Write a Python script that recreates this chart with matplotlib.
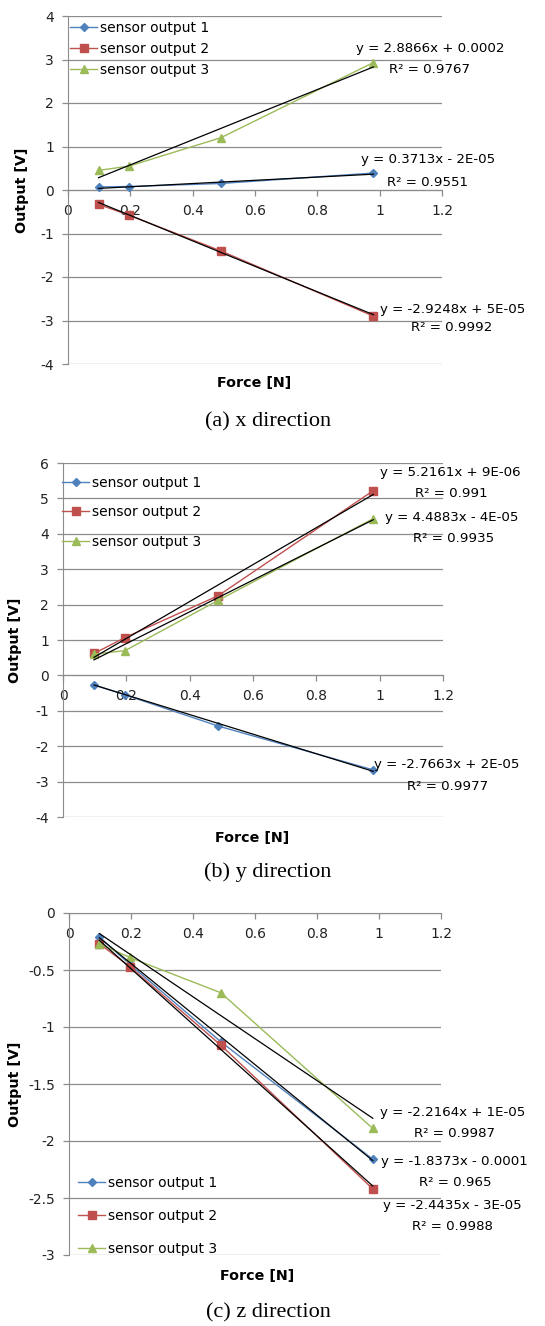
import numpy as np
import matplotlib
matplotlib.use("Agg")
import matplotlib.pyplot as plt
from matplotlib.lines import Line2D

plt.rcParams['font.family'] = ['DejaVu Sans']

# Applied force for every sensor reading [N]
force = [0.098, 0.196, 0.49, 0.98]

# (a) x direction
x_s1 = [0.07, 0.08, 0.15, 0.39]
x_s2 = [-0.33, -0.58, -1.40, -2.90]
x_s3 = [0.45, 0.55, 1.20, 2.93]
x_slope = [0.3713, -2.9248, 2.8866]
x_icpt = [-2e-05, 5e-05, 0.0002]
x_eq = ["y = 0.3713x - 2E-05", "y = -2.9248x + 5E-05", "y = 2.8866x + 0.0002"]
x_r2 = ["R² = 0.9551", "R² = 0.9992", "R² = 0.9767"]

# (b) y direction
y_s1 = [-0.27, -0.55, -1.43, -2.67]
y_s2 = [0.62, 1.07, 2.25, 5.22]
y_s3 = [0.60, 0.70, 2.12, 4.43]
y_slope = [-2.7663, 5.2161, 4.4883]
y_icpt = [2e-05, 9e-06, -4e-05]
y_eq = ["y = -2.7663x + 2E-05", "y = 5.2161x + 9E-06", "y = 4.4883x - 4E-05"]
y_r2 = ["R² = 0.9977", "R² = 0.991", "R² = 0.9935"]

# (c) z direction
z_s1 = [-0.21, -0.45, -1.13, -2.16]
z_s2 = [-0.27, -0.47, -1.16, -2.42]
z_s3 = [-0.27, -0.39, -0.70, -1.89]
z_slope = [-2.2164, -2.4435, -1.8373]
z_icpt = [1e-05, -3e-05, -0.0001]
z_eq = ["y = -1.8373x - 0.0001", "y = -2.4435x - 3E-05", "y = -2.2164x + 1E-05"]
z_r2 = ["R² = 0.965", "R² = 0.9988", "R² = 0.9987"]

names = ["sensor output 1", "sensor output 2", "sensor output 3"]
colors = ["#4F81BD", "#C0504D", "#9BBB59"]
markers = ["D", "s", "^"]
msizes = [4.5, 5.8, 6.0]
GRID = "#8c8c8c"


def draw_panel(ax, series, slopes, icpts, eqs, r2s, eq_pos, ylim, ystep,
               legend_anchor, legend_space, ylab_x):
    xs = np.array([force[0], force[-1]])
    for i, ys in enumerate(series):
        ax.plot(force, ys, color=colors[i], lw=1.0, marker=markers[i],
                ms=msizes[i], mec=colors[i], zorder=3)
    for i in range(3):
        ax.plot(xs, slopes[i] * xs + icpts[i], color="black", lw=0.9, zorder=4)
        (ex, ey), (rx, ry) = eq_pos[i]
        ax.text(ex, ey, eqs[i], ha="center", va="center", fontsize=9.6,
                clip_on=False, zorder=5)
        ax.text(rx, ry, r2s[i], ha="center", va="center", fontsize=9.6,
                clip_on=False, zorder=5)

    ax.set_xlim(0, 1.2)
    ax.set_ylim(*ylim)
    xt = np.arange(0, 1.21, 0.2)
    ax.set_xticks(xt)
    ax.set_xticklabels(["0", "0.2", "0.4", "0.6", "0.8", "1", "1.2"])
    yt = np.arange(ylim[0], ylim[1] + ystep / 2, ystep)
    ax.set_yticks(yt)
    ax.set_yticklabels(["%g" % v for v in yt])
    ax.grid(axis="y", color=GRID, lw=0.9)
    ax.set_axisbelow(True)
    for s in ["top", "right"]:
        ax.spines[s].set_visible(False)
    ax.spines["bottom"].set_position(("data", 0))
    ax.spines["bottom"].set_color(GRID)
    ax.spines["left"].set_color(GRID)
    ax.tick_params(axis="both", colors=GRID, labelcolor="#222222",
                   labelsize=10, length=4, width=0.9)
    ax.tick_params(axis="x", pad=6)
    ax.tick_params(axis="y", pad=6)

    handles = [Line2D([], [], color=colors[i], lw=1.0, marker=markers[i],
                      ms=msizes[i], mec=colors[i]) for i in range(3)]
    ax.legend(handles, names, loc="upper left", bbox_to_anchor=legend_anchor,
              bbox_transform=fig.transFigure, frameon=False, fontsize=10,
              handlelength=1.95, handletextpad=0.2, labelspacing=legend_space,
              borderpad=0, borderaxespad=0)

    pos = ax.get_position()
    fig.text(ylab_x, pos.y0 + pos.height / 2, "Output [V]", rotation=90,
             ha="center", va="center", fontsize=10.3, fontweight="bold")
    return pos


fig = plt.figure(figsize=(5.45, 13.26), dpi=100)
H = 1326.0
W = 545.0


def box(l, r, t, b):
    return [l / W, 1 - b / H, (r - l) / W, (b - t) / H]


ax_a = fig.add_axes(box(68, 442, 16, 364))
ax_b = fig.add_axes(box(63, 443, 463, 817))
ax_c = fig.add_axes(box(69, 441, 913, 1255))

draw_panel(ax_a, [x_s1, x_s2, x_s3], x_slope, x_icpt, x_eq, x_r2,
           [((1.154, 0.69), (1.154, 0.18)),
            ((1.235, -2.74), (1.232, -3.15)),
            ((1.161, 3.26), (1.161, 2.76))],
           (-4, 4), 1, (70 / W, 1 - 21 / H), 0.5, 22 / W)
draw_panel(ax_b, [y_s1, y_s2, y_s3], y_slope, y_icpt, y_eq, y_r2,
           [((1.213, -2.51), (1.213, -3.14)),
            ((1.222, 5.73), (1.225, 5.14)),
            ((1.229, 4.46), (1.232, 3.87))],
           (-4, 6), 1, (62 / W, 1 - 476 / H), 1.1, 15 / W)
draw_panel(ax_c, [z_s1, z_s2, z_s3], z_slope, z_icpt, z_eq, z_r2,
           [((1.242, -2.18), (1.245, -2.36)),
            ((1.236, -2.57), (1.236, -2.75)),
            ((1.239, -1.75), (1.242, -1.93))],
           (-3, 0), 0.5, (78 / W, 1 - 1176 / H), 1.36, 15 / W)

# axis titles and captions
for yf, xf in [(383, 254), (838, 252), (1276, 257)]:
    fig.text(xf / W, 1 - yf / H, "Force [N]", ha="center", va="center",
             fontsize=10.3, fontweight="bold")
for yc, cap in [(422, "(a) x direction"), (872, "(b) y direction"),
                (1313, "(c) z direction")]:
    fig.text(268 / W, 1 - yc / H, cap, ha="center", va="center",
             fontsize=16, family="Liberation Serif")

fig.savefig("out.png", dpi=100)
